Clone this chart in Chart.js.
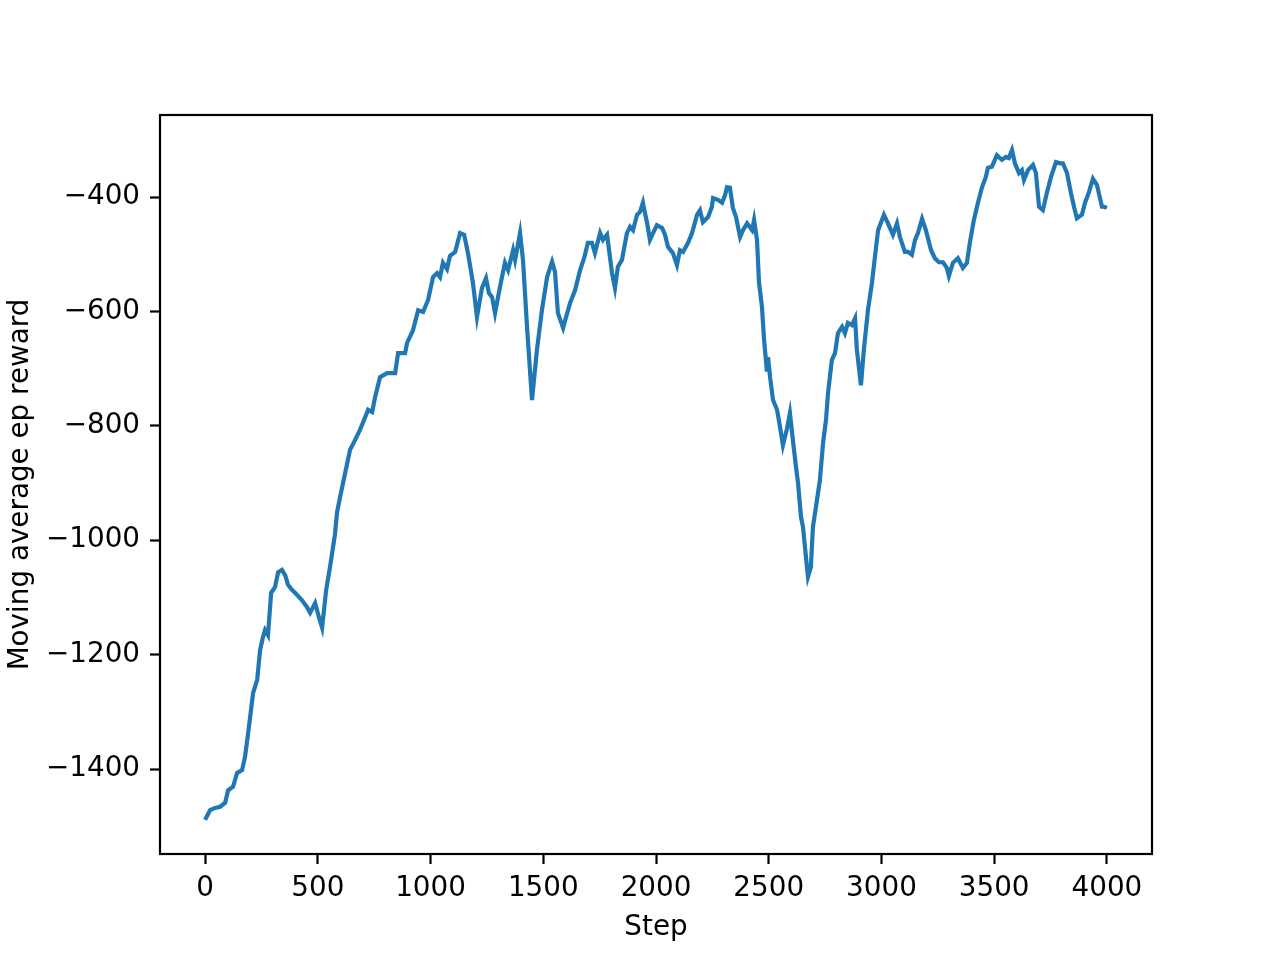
<!DOCTYPE html>
<html>
<head>
<meta charset="utf-8">
<script src="https://cdn.jsdelivr.net/npm/chart.js@4.4.1/dist/chart.umd.min.js"></script>
<style>
  body { margin: 0; background: #fff; }
  canvas { display: block; }
</style>
</head>
<body>
<canvas id="rewardChart" width="1280" height="960"></canvas>
<script>
// steps, moving average reward
const steps = [
    0, 22, 44, 67, 89, 102, 124, 142, 164, 177, 191, 213, 231, 244, 257, 266, 279, 293, 310, 324,
    341, 355, 368, 386, 399, 430, 452, 466, 488, 506, 519, 537, 554, 563, 576, 585, 599, 621, 643, 665,
    687, 710, 723, 741, 754, 776, 807, 843, 856, 887, 896, 922, 945, 967, 989, 1011, 1029, 1042, 1055, 1073,
    1086, 1109, 1131, 1149, 1166, 1188, 1206, 1228, 1246, 1259, 1273, 1286, 1308, 1330, 1344, 1366, 1375, 1397, 1410, 1428,
    1450, 1472, 1494, 1517, 1539, 1552, 1565, 1588, 1601, 1619, 1641, 1663, 1681, 1698, 1716, 1729, 1752, 1765, 1783, 1805,
    1818, 1831, 1849, 1871, 1885, 1898, 1916, 1929, 1942, 1951, 1960, 1973, 1987, 2004, 2027, 2040, 2053, 2075, 2093, 2106,
    2120, 2142, 2160, 2182, 2195, 2208, 2231, 2248, 2253, 2275, 2293, 2306, 2315, 2328, 2341, 2355, 2373, 2386, 2404, 2426,
    2435, 2448, 2457, 2470, 2479, 2492, 2497, 2506, 2519, 2537, 2550, 2563, 2581, 2594, 2608, 2621, 2630, 2643, 2652, 2665,
    2674, 2687, 2696, 2714, 2727, 2741, 2754, 2763, 2780, 2794, 2807, 2825, 2838, 2851, 2869, 2883, 2891, 2909, 2922, 2940,
    2958, 2971, 2985, 3011, 3029, 3051, 3069, 3082, 3104, 3118, 3135, 3149, 3162, 3180, 3197, 3220, 3237, 3255, 3273, 3290,
    3299, 3317, 3339, 3361, 3379, 3392, 3410, 3428, 3446, 3463, 3472, 3490, 3512, 3534, 3552, 3565, 3579, 3592, 3610, 3623,
    3632, 3650, 3672, 3685, 3699, 3716, 3734, 3752, 3774, 3792, 3805, 3823, 3840, 3854, 3867, 3889, 3903, 3920, 3938, 3956,
    3978, 3987, 4000
];
const rewards = [
    -1489, -1472, -1468, -1466, -1459, -1437, -1431, -1407, -1402, -1379, -1337, -1267, -1244, -1192, -1169, -1157, -1166, -1092, -1082, -1056,
    -1052, -1061, -1078, -1087, -1092, -1105, -1117, -1127, -1110, -1136, -1153, -1087, -1047, -1024, -990, -952, -924, -883, -842, -825,
    -807, -785, -772, -776, -750, -715, -708, -708, -673, -673, -655, -633, -598, -601, -580, -540, -533, -540, -515, -526,
    -503, -496, -463, -466, -498, -550, -610, -559, -542, -568, -575, -603, -557, -515, -528, -493, -510, -463, -510, -627,
    -755, -667, -598, -540, -513, -531, -603, -629, -610, -585, -563, -528, -507, -480, -480, -498, -463, -475, -466, -533,
    -559, -522, -510, -463, -452, -458, -431, -426, -410, -428, -444, -475, -463, -449, -454, -466, -487, -498, -519, -493,
    -496, -480, -463, -431, -423, -444, -435, -417, -402, -405, -410, -397, -383, -384, -419, -435, -470, -458, -446, -458,
    -440, -475, -550, -592, -648, -705, -680, -715, -755, -772, -802, -834, -805, -778, -828, -872, -900, -959, -977, -1029,
    -1064, -1047, -977, -930, -895, -830, -790, -743, -685, -673, -638, -627, -638, -620, -624, -612, -667, -729, -667, -598,
    -550, -505, -458, -431, -446, -466, -446, -470, -496, -496, -501, -475, -463, -438, -458, -493, -507, -514, -514, -524,
    -538, -515, -507, -524, -515, -480, -440, -410, -383, -365, -349, -347, -327, -335, -330, -332, -318, -341, -358, -353,
    -370, -353, -344, -358, -417, -423, -392, -365, -339, -341, -341, -358, -392, -417, -437, -431, -410, -392, -368, -379,
    -417, -417, -419
];
const xTicks = [0, 500, 1000, 1500, 2000, 2500, 3000, 3500, 4000];
const yTicks = [-1400, -1200, -1000, -800, -600, -400];

const points = steps.map((s, i) => ({ x: s, y: rewards[i] }));

const fontFamily = '"DejaVu Sans", sans-serif';
const minus = v => (v < 0 ? '\u2212' + Math.abs(v) : String(v));

// matplotlib style box round the plot area
const frame = {
    id: 'frame',
    afterDraw(chart) {
        const a = chart.chartArea;
        const c = chart.ctx;
        c.save();
        c.strokeStyle = '#000';
        c.lineWidth = 2.2;
        c.strokeRect(a.left, a.top, a.right - a.left, a.bottom - a.top);
        c.restore();
    }
};

const ctx = document.getElementById('rewardChart').getContext('2d');
new Chart(ctx, {
    type: 'line',
    data: {
        datasets: [{
            data: points,
            borderColor: '#1f77b4',
            borderWidth: 4.2,
            pointRadius: 0,
            tension: 0,
            fill: false
        }]
    },
    options: {
        responsive: false,
        animation: false,
        layout: { padding: { top: 115, right: 128, left: 0, bottom: 0 } },
        plugins: { legend: { display: false }, tooltip: { enabled: false } },
        scales: {
            x: {
                type: 'linear',
                min: -200,
                max: 4200,
                afterBuildTicks: axis => { axis.ticks = xTicks.map(v => ({ value: v })); },
                afterFit: axis => { axis.height = 106; },
                border: { display: false },
                grid: { drawOnChartArea: false, drawTicks: true, tickLength: 10, tickWidth: 2.2, tickColor: '#000' },
                ticks: {
                    color: '#000',
                    padding: 8,
                    maxRotation: 0,
                    font: { family: fontFamily, size: 27.8 },
                    callback: v => minus(v)
                },
                title: {
                    display: true,
                    text: 'Step',
                    color: '#000',
                    font: { family: fontFamily, size: 27.8 },
                    padding: { top: 0, bottom: 16 }
                }
            },
            y: {
                min: -1548.6,
                max: -256.6,
                afterBuildTicks: axis => { axis.ticks = yTicks.map(v => ({ value: v })); },
                afterFit: axis => { axis.width = 160; },
                border: { display: false },
                grid: { drawOnChartArea: false, drawTicks: true, tickLength: 10, tickWidth: 2.2, tickColor: '#000' },
                ticks: {
                    color: '#000',
                    padding: 10,
                    font: { family: fontFamily, size: 27.8 },
                    callback: v => minus(v)
                },
                title: {
                    display: true,
                    text: 'Moving average ep reward',
                    color: '#000',
                    font: { family: fontFamily, size: 27.8 },
                    padding: { top: 4, bottom: 0 }
                }
            }
        }
    },
    plugins: [frame]
});
</script>
</body>
</html>
